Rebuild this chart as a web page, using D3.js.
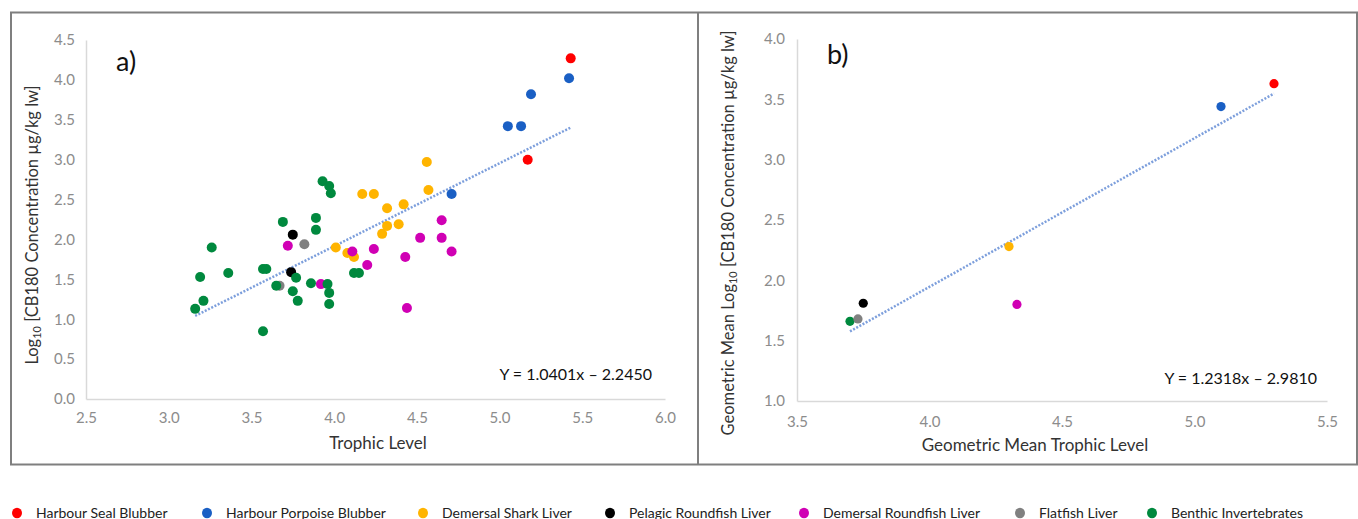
<!DOCTYPE html>
<html>
<head>
<meta charset="utf-8">
<script src="https://cdn.jsdelivr.net/npm/d3@7"></script>
<style>
  html, body { margin: 0; padding: 0; background: #fff; }
  svg { display: block; font-family: Lato, "Open Sans", sans-serif; }
</style>
</head>
<body>
<svg id="chart" width="1358" height="519"></svg>
<script>
// ---------- DATA ----------
const seriesNames = ["Harbour Seal Blubber", "Harbour Porpoise Blubber", "Demersal Shark Liver",
  "Pelagic Roundfish Liver", "Demersal Roundfish Liver", "Flatfish Liver", "Benthic Invertebrates"];
const seriesColors = ["#ff0000", "#1a5fc4", "#ffb400", "#000000", "#d000b4", "#808080", "#00893e"];

// Panel a: trophic level (x) and log10 CB180 concentration (y) per series
const sealTL = [5.43, 5.17];
const sealLog = [4.27, 3.00];
const porpoiseTL = [5.42, 5.19, 5.05, 5.13, 4.71];
const porpoiseLog = [4.02, 3.82, 3.42, 3.42, 2.57];
const sharkTL = [4.56, 4.57, 4.17, 4.24, 4.32, 4.42, 4.32, 4.39, 4.29, 4.01, 4.08, 4.12];
const sharkLog = [2.97, 2.62, 2.57, 2.57, 2.39, 2.44, 2.17, 2.19, 2.07, 1.90, 1.83, 1.78];
const pelagicTL = [3.75, 3.74];
const pelagicLog = [2.06, 1.59];
const roundfishTL = [4.65, 4.52, 4.65, 4.71, 4.43, 4.24, 4.11, 4.20, 4.44, 3.92, 3.72];
const roundfishLog = [2.24, 2.02, 2.02, 1.85, 1.78, 1.88, 1.85, 1.68, 1.14, 1.44, 1.92];
const flatfishTL = [3.82, 3.67];
const flatfishLog = [1.94, 1.42];
const benthicTL = [3.93, 3.97, 3.98, 3.69, 3.89, 3.89, 3.26, 3.19, 3.36, 3.21, 3.16, 3.57,
  3.59, 3.65, 3.77, 3.75, 3.78, 3.86, 3.96, 3.97, 3.97, 3.57, 4.12, 4.15];
const benthicLog = [2.73, 2.67, 2.58, 2.22, 2.27, 2.12, 1.90, 1.53, 1.58, 1.23, 1.13, 1.63,
  1.63, 1.42, 1.52, 1.35, 1.23, 1.45, 1.44, 1.33, 1.19, 0.85, 1.58, 1.58];

// Panel b: geometric means per series (same order as seriesNames)
const gmTL = [5.30, 5.10, 4.30, 3.75, 4.33, 3.73, 3.70];
const gmLog = [3.63, 3.44, 2.28, 1.81, 1.80, 1.68, 1.66];
const drawOrderB = [0, 1, 2, 3, 4, 6, 5];

// Regression lines
const slopeA = 1.0401, interceptA = -2.2450, fitRangeA = [3.16, 5.43];
const slopeB = 1.2318, interceptB = -2.9810, fitRangeB = [3.70, 5.30];
const eqTextA = "Y = 1.0401x \u2013 2.2450";
const eqTextB = "Y = 1.2318x \u2013 2.9810";

// Axis ticks
const xTicksA = [2.5, 3.0, 3.5, 4.0, 4.5, 5.0, 5.5, 6.0];
const yTicksA = [0.0, 0.5, 1.0, 1.5, 2.0, 2.5, 3.0, 3.5, 4.0, 4.5];
const xTicksB = [3.5, 4.0, 4.5, 5.0, 5.5];
const yTicksB = [1.0, 1.5, 2.0, 2.5, 3.0, 3.5, 4.0];

// Legend layout (pixel positions of the legend markers)
const legendX = [17, 207, 423, 610, 804, 1020, 1152];

// ---------- DRAW ----------
const svg = d3.select("#chart");
const fmt = d3.format(".1f");

const seriesA = [
  [sealTL, sealLog], [porpoiseTL, porpoiseLog], [sharkTL, sharkLog], [pelagicTL, pelagicLog],
  [roundfishTL, roundfishLog], [flatfishTL, flatfishLog], [benthicTL, benthicLog]
];

// frame
const frame = svg.append("g").attr("fill", "none").attr("stroke", "#7f7f7f").attr("stroke-width", 2);
frame.append("rect").attr("x", 11).attr("y", 12.5).attr("width", 1346).attr("height", 452);
frame.append("line").attr("x1", 698).attr("x2", 698).attr("y1", 12.5).attr("y2", 464.5);

function axes(g, x, y, xt, yt, padX, padY) {
  const ax = g.append("g").attr("transform", `translate(0,${y.range()[0]})`)
    .call(d3.axisBottom(x).tickValues(xt).tickFormat(fmt).tickSize(0).tickPadding(padX));
  const ay = g.append("g").attr("transform", `translate(${x.range()[0]},0)`)
    .call(d3.axisLeft(y).tickValues(yt).tickFormat(fmt).tickSize(0).tickPadding(padY));
  [ax, ay].forEach(a => {
    a.select(".domain").attr("stroke", "#d9d9d9").attr("stroke-width", 1.5);
    a.selectAll("text").attr("fill", "#8c8c8c").attr("font-size", 15)
      .attr("font-family", "Lato, sans-serif");
  });
}

// Panel a
const xA = d3.scaleLinear().domain([2.5, 6.0]).range([86, 665]);
const yA = d3.scaleLinear().domain([0, 4.5]).range([399, 40]);
const gA = svg.append("g");
axes(gA, xA, yA, xTicksA, yTicksA, 13, 11);

gA.append("line")
  .attr("x1", xA(fitRangeA[0])).attr("y1", yA(slopeA * fitRangeA[0] + interceptA))
  .attr("x2", xA(fitRangeA[1])).attr("y2", yA(slopeA * fitRangeA[1] + interceptA))
  .attr("stroke", "#7d9fdc").attr("stroke-width", 2.5).attr("stroke-dasharray", "2,1.6");

seriesA.forEach((s, i) => {
  gA.append("g").selectAll("circle").data(d3.range(s[0].length)).join("circle")
    .attr("cx", j => xA(s[0][j])).attr("cy", j => yA(s[1][j]))
    .attr("r", 5).attr("fill", seriesColors[i]);
});

gA.append("text").attr("x", 116).attr("y", 71).attr("font-size", 27).attr("fill", "#111").text("a)");
gA.append("text").attr("x", 652).attr("y", 380).attr("text-anchor", "end")
  .attr("font-size", 16).attr("fill", "#111").text(eqTextA);
gA.append("text").attr("x", 378).attr("y", 449).attr("text-anchor", "middle")
  .attr("font-size", 17).attr("fill", "#333").text("Trophic Level");
const ytA = gA.append("text").attr("transform", "translate(38,225) rotate(-90)")
  .attr("text-anchor", "middle").attr("font-size", 16.5).attr("fill", "#333");
ytA.append("tspan").text("Log");
ytA.append("tspan").attr("font-size", 11).attr("dy", 3).text("10");
ytA.append("tspan").attr("dy", -3).text(" [CB180 Concentration \u00b5g/kg lw]");

// Panel b
const xB = d3.scaleLinear().domain([3.5, 5.5]).range([797, 1327]);
const yB = d3.scaleLinear().domain([1.0, 4.0]).range([401, 39]);
const gB = svg.append("g");
axes(gB, xB, yB, xTicksB, yTicksB, 15, 12);

gB.append("line")
  .attr("x1", xB(fitRangeB[0])).attr("y1", yB(slopeB * fitRangeB[0] + interceptB))
  .attr("x2", xB(fitRangeB[1])).attr("y2", yB(slopeB * fitRangeB[1] + interceptB))
  .attr("stroke", "#7d9fdc").attr("stroke-width", 2.5).attr("stroke-dasharray", "2,1.6");

gB.append("g").selectAll("circle").data(drawOrderB).join("circle")
  .attr("cx", i => xB(gmTL[i])).attr("cy", i => yB(gmLog[i]))
  .attr("r", 4.6).attr("fill", i => seriesColors[i]);

gB.append("text").attr("x", 827).attr("y", 64).attr("font-size", 27).attr("fill", "#111").text("b)");
gB.append("text").attr("x", 1317).attr("y", 384).attr("text-anchor", "end")
  .attr("font-size", 16).attr("fill", "#111").text(eqTextB);
gB.append("text").attr("x", 1035).attr("y", 451).attr("text-anchor", "middle")
  .attr("font-size", 17).attr("fill", "#333").text("Geometric Mean Trophic Level");
const ytB = gB.append("text").attr("transform", "translate(734,233) rotate(-90)")
  .attr("text-anchor", "middle").attr("font-size", 16.5).attr("fill", "#333");
ytB.append("tspan").text("Geometric Mean Log");
ytB.append("tspan").attr("font-size", 11).attr("dy", 3).text("10");
ytB.append("tspan").attr("dy", -3).text(" [CB180 Concentration \u00b5g/kg lw]");

// Legend
const lg = svg.append("g");
seriesNames.forEach((name, i) => {
  lg.append("ellipse").attr("cx", legendX[i]).attr("cy", 513).attr("rx", 5).attr("ry", 5.2)
    .attr("fill", seriesColors[i]);
  lg.append("text").attr("x", legendX[i] + 19).attr("y", 517.5).attr("font-size", 14)
    .attr("fill", "#222").text(name);
});
</script>
</body>
</html>
